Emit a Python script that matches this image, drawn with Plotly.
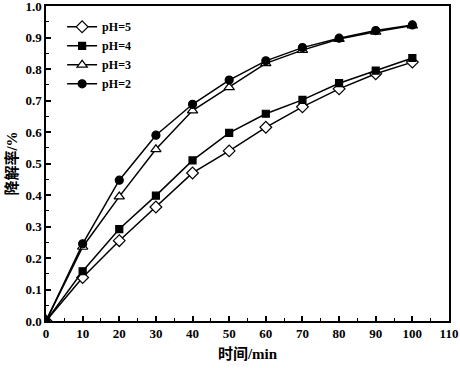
import plotly.graph_objects as go

time_min = [0, 10, 20, 30, 40, 50, 60, 70, 80, 90, 100]
ph5 = [0, 0.138, 0.255, 0.362, 0.470, 0.540, 0.615, 0.680, 0.737, 0.785, 0.822]
ph4 = [0, 0.158, 0.292, 0.398, 0.510, 0.597, 0.658, 0.702, 0.755, 0.795, 0.835]
ph3 = [0, 0.235, 0.395, 0.545, 0.668, 0.742, 0.818, 0.860, 0.895, 0.918, 0.938]
ph2 = [0, 0.245, 0.447, 0.590, 0.688, 0.765, 0.826, 0.868, 0.898, 0.922, 0.940]

series = [
    ("pH=5", ph5, "diamond", 9, "white"),
    ("pH=4", ph4, "square", 7, "black"),
    ("pH=3", ph3, "triangle-up", 9, "white"),
    ("pH=2", ph2, "circle", 8, "black"),
]

font_family = "Liberation Serif, Times New Roman, Noto Sans CJK SC, serif"

fig = go.Figure()
for name, vals, sym, sz, fill in series:
    fig.add_trace(go.Scatter(
        x=time_min, y=vals, name=name, mode="lines+markers",
        line=dict(color="black", width=1.5),
        marker=dict(symbol=sym, size=sz, color=fill,
                    line=dict(color="black", width=1.2)),
    ))

axis_common = dict(
    showline=True, linecolor="black", linewidth=1.5, mirror=True,
    ticks="inside", ticklen=5, tickwidth=1.5, tickcolor="black",
    showgrid=False, zeroline=False, automargin=False,
    ticklabeloverflow="allow",
    tickfont=dict(family=font_family, size=13, color="black"),
)

fig.update_xaxes(
    range=[0, 110.001], dtick=10, tick0=0,
    minor=dict(ticks="inside", ticklen=3, tickwidth=1.2, dtick=5, tickcolor="black"),
    title=dict(text="<b>时间/min</b>", font=dict(family=font_family, size=15, color="black"), standoff=8),
    **axis_common,
)
fig.update_yaxes(
    range=[0, 1.0001], dtick=0.1, tick0=0, tickformat=".1f",
    minor=dict(ticks="inside", ticklen=3, tickwidth=1.2, dtick=0.05, tickcolor="black"),
    title=dict(text="<b>降解率/%</b>", font=dict(family=font_family, size=15, color="black"), standoff=4),
    **axis_common,
)

fig.update_layout(
    width=460, height=368,
    margin=dict(l=46, r=11, t=6, b=47),
    paper_bgcolor="white", plot_bgcolor="white",
    font=dict(family=font_family, size=13, color="black", weight="bold"),
    legend=dict(x=0.04, y=0.98, xanchor="left", yanchor="top",
                bgcolor="rgba(0,0,0,0)", font=dict(size=12, family=font_family, weight="bold"),
                itemwidth=30, tracegroupgap=0),
    showlegend=True,
)

fig.write_html("out.html", config={"displayModeBar": False},
               post_script="document.body.style.margin='0';document.body.style.overflow='hidden';")
